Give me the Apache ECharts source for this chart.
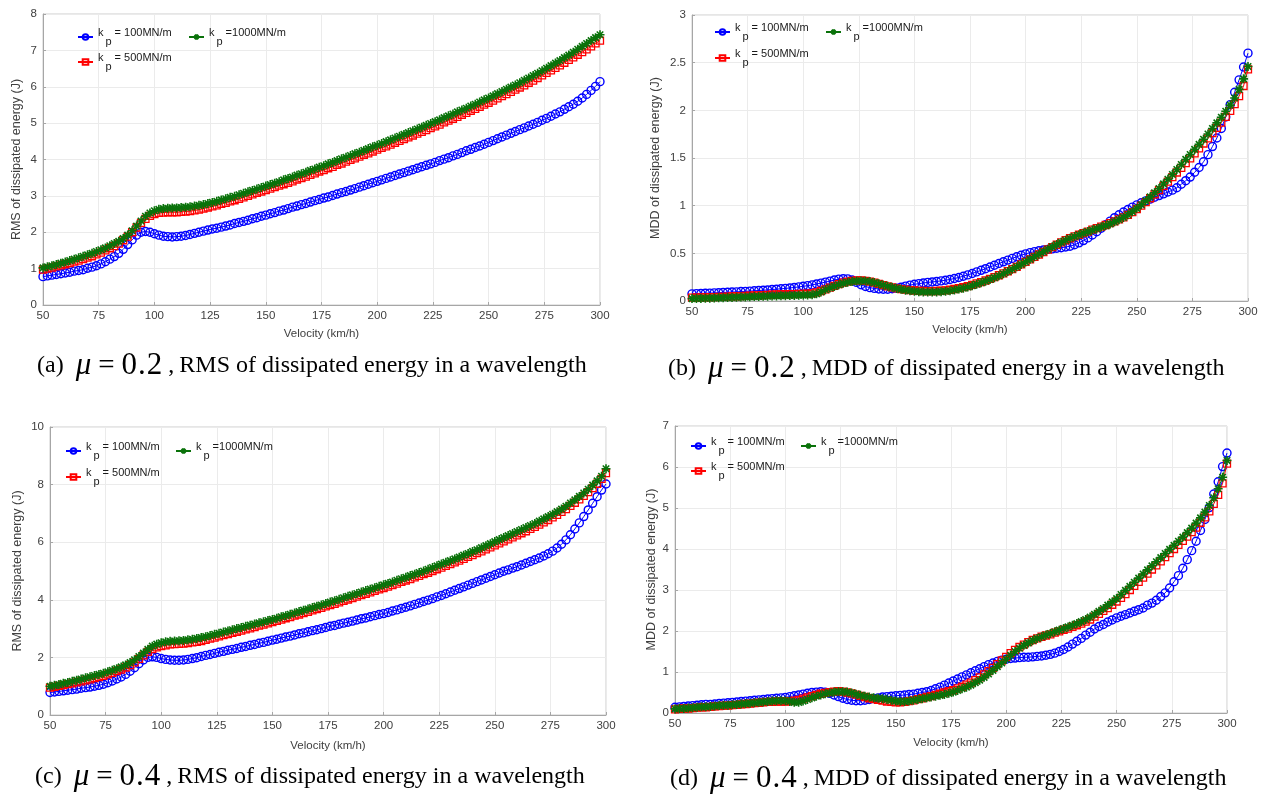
<!DOCTYPE html>
<html>
<head>
<meta charset="utf-8">
<script src="https://cdn.jsdelivr.net/npm/echarts@6/dist/echarts.min.js"></script>
<style>
  html, body { margin: 0; padding: 0; background: #fff; }
  #chart { width: 1262px; height: 795px; }
</style>
</head>
<body>
<div id="chart"></div>
<script>
// velocity (km/h), one marker every 2 km/h
const velocity = [50,52,54,56,58,60,62,64,66,68,70,72,74,76,78,80,82,84,86,88,90,92,94,96,98,
  100,102,104,106,108,110,112,114,116,118,120,122,124,126,128,130,132,134,136,138,140,142,144,146,148,
  150,152,154,156,158,160,162,164,166,168,170,172,174,176,178,180,182,184,186,188,190,192,194,196,198,
  200,202,204,206,208,210,212,214,216,218,220,222,224,226,228,230,232,234,236,238,240,242,244,246,248,
  250,252,254,256,258,260,262,264,266,268,270,272,274,276,278,280,282,284,286,288,290,292,294,296,298,300];

// (a) mu = 0.2, RMS of dissipated energy (J)
const rms02_k100 = [0.78,0.80,0.82,0.84,0.86, 0.88,0.90,0.93,0.95,0.97, 1.01,1.04,1.08,1.13,1.19,
  1.26,1.33,1.42,1.53,1.66, 1.79,1.92,2.00,2.02,2.00, 1.96,1.92,1.89,1.88,1.87, 1.88,1.89,1.91,1.94,1.97,
  2.00,2.03,2.06,2.09,2.11, 2.14,2.17,2.20,2.24,2.27, 2.30,2.33,2.37,2.40,2.44, 2.47,2.51,2.54,2.58,2.61,
  2.65,2.69,2.72,2.76,2.79, 2.83,2.87,2.90,2.94,2.97, 3.01,3.05,3.09,3.12,3.16, 3.20,3.24,3.28,3.32,3.36,
  3.40,3.44,3.48,3.52,3.56, 3.60,3.64,3.68,3.72,3.76, 3.80,3.84,3.88,3.92,3.97, 4.01,4.05,4.10,4.14,4.19,
  4.24,4.28,4.33,4.37,4.42, 4.47,4.52,4.57,4.62,4.67, 4.72,4.77,4.82,4.87,4.92, 4.97,5.02,5.08,5.13,5.19,
  5.25,5.31,5.38,5.45,5.52, 5.60,5.69,5.79,5.90,6.01, 6.14];
const rms02_k500 = [0.97,1.00,1.03,1.06,1.09, 1.12,1.15,1.19,1.22,1.26, 1.30,1.34,1.39,1.44,1.50,
  1.56,1.62,1.69,1.78,1.88, 2.00,2.13,2.26,2.37,2.45, 2.50,2.53,2.54,2.55,2.55, 2.55,2.56,2.57,2.58,2.60,
  2.62,2.65,2.68,2.71,2.74, 2.78,2.81,2.85,2.88,2.92, 2.96,3.00,3.04,3.08,3.12, 3.16,3.20,3.24,3.28,3.32,
  3.36,3.40,3.45,3.49,3.53, 3.58,3.62,3.67,3.71,3.76, 3.80,3.85,3.89,3.94,3.99, 4.03,4.08,4.13,4.17,4.22,
  4.27,4.32,4.36,4.41,4.46, 4.51,4.56,4.61,4.66,4.71, 4.76,4.81,4.86,4.91,4.96, 5.02,5.07,5.12,5.17,5.23,
  5.28,5.34,5.39,5.45,5.51, 5.56,5.62,5.68,5.74,5.80, 5.86,5.92,5.98,6.04,6.11, 6.17,6.24,6.31,6.38,6.45,
  6.52,6.59,6.66,6.74,6.81, 6.88,6.95,7.03,7.11,7.19, 7.27];
const rms02_k1000 = [1.02,1.05,1.08,1.11,1.15, 1.18,1.22,1.26,1.30,1.34, 1.38,1.42,1.47,1.52,1.57,
  1.63,1.69,1.75,1.83,1.92, 2.04,2.17,2.31,2.44,2.53, 2.59,2.63,2.65,2.66,2.67, 2.67,2.68,2.69,2.70,2.72,
  2.74,2.76,2.79,2.82,2.85, 2.89,2.92,2.96,2.99,3.03, 3.07,3.11,3.15,3.19,3.23, 3.27,3.31,3.35,3.39,3.44,
  3.48,3.52,3.57,3.61,3.65, 3.70,3.74,3.79,3.83,3.88, 3.92,3.97,4.02,4.06,4.11, 4.16,4.20,4.25,4.30,4.35,
  4.39,4.44,4.49,4.54,4.59, 4.64,4.69,4.74,4.79,4.84, 4.89,4.94,4.99,5.04,5.09, 5.15,5.20,5.25,5.31,5.36,
  5.41,5.47,5.52,5.58,5.64, 5.69,5.75,5.81,5.87,5.93, 5.99,6.05,6.11,6.18,6.24, 6.31,6.37,6.44,6.51,6.58,
  6.65,6.72,6.80,6.87,6.95, 7.03,7.11,7.19,7.27,7.35, 7.43];

// (b) mu = 0.2, MDD of dissipated energy (J)
const mdd02_k100 = [0.075,0.077,0.079,0.081,0.083, 0.085,0.087,0.089,0.091,0.094, 0.096,0.099,0.101,0.104,0.107,
  0.110,0.113,0.116,0.120,0.124, 0.128,0.132,0.137,0.142,0.148, 0.154,0.161,0.169,0.178,0.188,
  0.198,0.209,0.220,0.229,0.234, 0.232,0.220,0.195,0.170,0.152, 0.140,0.132,0.126,0.123,0.124,
  0.128,0.135,0.145,0.156,0.166, 0.175,0.182,0.189,0.195,0.200, 0.205,0.211,0.218,0.226,0.236,
  0.247,0.260,0.274,0.289,0.305, 0.322,0.339,0.357,0.375,0.393, 0.411,0.429,0.447,0.464,0.480,
  0.494,0.507,0.518,0.527,0.535, 0.541,0.547,0.553,0.559,0.566, 0.575,0.590,0.610,0.634,0.662,
  0.693,0.727,0.763,0.800,0.838, 0.874,0.905,0.934,0.960,0.985, 1.008,1.030,1.050,1.069,1.088,
  1.106,1.124,1.143,1.163,1.188, 1.225,1.262,1.300,1.350,1.400, 1.460,1.535,1.620,1.710,1.810,
  1.930,2.060,2.190,2.320,2.455, 2.600];
const mdd02_k500 = [0.035,0.036,0.037,0.038,0.040, 0.041,0.043,0.044,0.046,0.048, 0.050,0.052,0.054,0.056,0.058,
  0.060,0.062,0.064,0.066,0.068, 0.070,0.071,0.072,0.073,0.074, 0.075,0.076,0.080,0.090,0.105,
  0.122,0.140,0.158,0.176,0.192, 0.204,0.212,0.216,0.216,0.212, 0.204,0.193,0.180,0.167,0.154,
  0.143,0.133,0.125,0.119,0.114, 0.110,0.107,0.105,0.104,0.104, 0.105,0.108,0.112,0.118,0.126,
  0.135,0.145,0.157,0.170,0.184, 0.199,0.215,0.232,0.250,0.270, 0.290,0.312,0.335,0.359,0.384,
  0.410,0.436,0.462,0.488,0.514, 0.540,0.565,0.590,0.614,0.637, 0.658,0.677,0.695,0.712,0.728,
  0.748,0.764,0.780,0.797,0.816, 0.836,0.856,0.878,0.903,0.932, 0.965,1.000,1.038,1.078,1.120,
  1.163,1.207,1.253,1.300,1.348, 1.397,1.447,1.497,1.548,1.600, 1.652,1.705,1.760,1.815,1.872,
  1.932,1.995,2.065,2.150,2.255, 2.430];
const mdd02_k1000 = [0.025,0.026,0.027,0.029,0.030, 0.032,0.033,0.035,0.036,0.038, 0.039,0.041,0.042,0.044,0.046,
  0.047,0.049,0.050,0.052,0.053, 0.055,0.056,0.058,0.059,0.061, 0.062,0.063,0.065,0.075,0.095,
  0.118,0.136,0.153,0.170,0.185, 0.196,0.204,0.209,0.211,0.210, 0.204,0.193,0.181,0.168,0.155,
  0.143,0.132,0.122,0.114,0.107, 0.102,0.098,0.095,0.094,0.094, 0.095,0.098,0.102,0.108,0.116,
  0.125,0.135,0.147,0.160,0.175, 0.191,0.208,0.226,0.245,0.265, 0.286,0.309,0.333,0.358,0.384,
  0.410,0.437,0.464,0.491,0.517, 0.543,0.568,0.592,0.615,0.637, 0.658,0.677,0.695,0.712,0.728,
  0.744,0.759,0.775,0.791,0.809, 0.830,0.852,0.877,0.905,0.937, 0.972,1.010,1.050,1.092,1.135,
  1.180,1.228,1.277,1.327,1.380, 1.432,1.485,1.537,1.590,1.643, 1.697,1.752,1.810,1.868,1.928,
  1.990,2.055,2.130,2.220,2.330, 2.460];

// (c) mu = 0.4, RMS of dissipated energy (J)
const rms04_k100 = [0.78,0.80,0.82,0.84,0.86, 0.88,0.90,0.93,0.95,0.97, 1.00,1.03,1.07,1.12,1.18,
  1.25,1.32,1.41,1.52,1.64, 1.78,1.91,2.00,2.02,2.00, 1.96,1.93,1.91,1.90,1.90, 1.91,1.93,1.96,1.99,2.03,
  2.07,2.10,2.14,2.18,2.21, 2.25,2.28,2.31,2.35,2.38, 2.42,2.45,2.49,2.52,2.56, 2.60,2.63,2.67,2.71,2.74,
  2.78,2.82,2.85,2.89,2.93, 2.96,3.00,3.04,3.08,3.11, 3.15,3.19,3.22,3.26,3.30, 3.34,3.37,3.41,3.45,3.49,
  3.52,3.56,3.61,3.65,3.70, 3.74,3.79,3.84,3.89,3.94, 3.99,4.04,4.10,4.15,4.21, 4.27,4.33,4.39,4.45,4.51,
  4.57,4.63,4.69,4.75,4.81, 4.87,4.93,4.99,5.04,5.10, 5.15,5.21,5.27,5.33,5.39, 5.45,5.52,5.60,5.69,5.80,
  5.93,6.08,6.26,6.46,6.67, 6.89,7.12,7.35,7.58,7.81, 8.02];
const rms04_k500 = [0.95,0.98,1.01,1.04,1.07, 1.10,1.13,1.17,1.20,1.24, 1.28,1.32,1.36,1.41,1.46,
  1.52,1.58,1.65,1.73,1.83, 1.95,2.07,2.19,2.29,2.35, 2.39,2.42,2.45,2.46,2.47, 2.48,2.50,2.52,2.54,2.57,
  2.61,2.65,2.69,2.73,2.77, 2.81,2.85,2.89,2.93,2.97, 3.01,3.05,3.10,3.14,3.18, 3.23,3.27,3.31,3.36,3.40,
  3.45,3.49,3.54,3.58,3.63, 3.68,3.72,3.77,3.82,3.86, 3.91,3.96,4.01,4.06,4.11, 4.16,4.21,4.26,4.31,4.36,
  4.41,4.46,4.51,4.56,4.62, 4.67,4.72,4.78,4.83,4.89, 4.94,5.00,5.06,5.12,5.18, 5.24,5.30,5.36,5.42,5.49,
  5.55,5.62,5.68,5.75,5.82, 5.89,5.96,6.03,6.10,6.17, 6.24,6.31,6.38,6.46,6.53, 6.61,6.69,6.77,6.86,6.95,
  7.05,7.15,7.26,7.37,7.49, 7.61,7.74,7.88,8.03,8.20, 8.40];
const rms04_k1000 = [1.00,1.03,1.06,1.10,1.13, 1.17,1.21,1.25,1.29,1.33, 1.37,1.41,1.45,1.50,1.55,
  1.61,1.67,1.74,1.82,1.92, 2.03,2.15,2.28,2.39,2.46, 2.51,2.54,2.56,2.57,2.58, 2.59,2.61,2.63,2.66,2.69,
  2.72,2.76,2.80,2.84,2.88, 2.92,2.96,3.00,3.04,3.08, 3.12,3.16,3.20,3.24,3.28, 3.32,3.36,3.41,3.45,3.50,
  3.54,3.59,3.64,3.68,3.73, 3.78,3.82,3.87,3.92,3.97, 4.02,4.07,4.12,4.17,4.22, 4.27,4.32,4.37,4.42,4.47,
  4.52,4.57,4.62,4.68,4.73, 4.78,4.84,4.89,4.95,5.00, 5.06,5.12,5.18,5.24,5.30, 5.36,5.42,5.48,5.55,5.61,
  5.68,5.74,5.81,5.88,5.95, 6.02,6.09,6.16,6.23,6.30, 6.37,6.44,6.51,6.58,6.65, 6.73,6.81,6.89,6.97,7.06,
  7.15,7.25,7.36,7.47,7.59, 7.71,7.84,7.98,8.13,8.29, 8.55];

// (d) mu = 0.4, MDD of dissipated energy (J)
const mdd04_k100 = [0.14,0.15,0.16,0.17,0.18, 0.19,0.20,0.21,0.21,0.22, 0.23,0.24,0.25,0.26,0.27,
  0.28,0.29,0.30,0.31,0.32, 0.33,0.34,0.35,0.36,0.37, 0.38,0.40,0.42,0.44,0.46, 0.48,0.50,0.51,0.52,0.51,
  0.48,0.44,0.40,0.36,0.33, 0.31,0.30,0.30,0.31,0.33, 0.35,0.37,0.39,0.40,0.41, 0.42,0.43,0.44,0.45,0.46,
  0.48,0.50,0.52,0.55,0.59, 0.63,0.68,0.73,0.78,0.83, 0.88,0.93,0.98,1.03,1.08, 1.13,1.18,1.22,1.26,1.29,
  1.31,1.33,1.34,1.35,1.36, 1.36,1.37,1.38,1.39,1.41, 1.43,1.46,1.50,1.55,1.61, 1.68,1.75,1.82,1.90,1.97,
  2.05,2.11,2.16,2.22,2.27, 2.32,2.36,2.40,2.44,2.48, 2.52,2.56,2.63,2.68,2.75, 2.84,2.93,3.05,3.20,3.35,
  3.53,3.74,3.96,4.19,4.45, 4.72,5.01,5.34,5.64,6.01, 6.34];
const mdd04_k500 = [0.09,0.10,0.11,0.11,0.12, 0.13,0.14,0.14,0.15,0.16, 0.17,0.18,0.18,0.19,0.20,
  0.21,0.22,0.23,0.24,0.25, 0.26,0.27,0.27,0.28,0.28, 0.28,0.29,0.30,0.32,0.35, 0.38,0.41,0.44,0.47,0.49,
  0.51,0.52,0.53,0.52,0.50, 0.48,0.45,0.42,0.39,0.36, 0.34,0.32,0.30,0.28,0.27, 0.26,0.26,0.27,0.29,0.31,
  0.34,0.36,0.39,0.41,0.44, 0.47,0.50,0.53,0.56,0.60, 0.64,0.69,0.74,0.80,0.87, 0.94,1.02,1.10,1.19,1.28,
  1.37,1.46,1.54,1.61,1.67, 1.73,1.78,1.82,1.86,1.89, 1.92,1.96,1.99,2.03,2.06, 2.10,2.14,2.18,2.23,2.28,
  2.35,2.42,2.49,2.56,2.64, 2.72,2.81,2.90,3.00,3.10, 3.20,3.30,3.40,3.50,3.60, 3.70,3.80,3.90,4.00,4.10,
  4.20,4.30,4.41,4.52,4.64, 4.77,4.92,5.10,5.32,5.60, 6.08];
const mdd04_k1000 = [0.10,0.11,0.11,0.12,0.13, 0.14,0.15,0.15,0.16,0.17, 0.18,0.19,0.19,0.20,0.21,
  0.22,0.23,0.24,0.25,0.26, 0.27,0.28,0.29,0.30,0.30, 0.30,0.28,0.26,0.26,0.29, 0.33,0.37,0.41,0.44,0.47,
  0.49,0.51,0.52,0.52,0.51, 0.49,0.46,0.43,0.41,0.39, 0.37,0.36,0.35,0.33,0.31, 0.29,0.28,0.28,0.29,0.31,
  0.33,0.35,0.37,0.39,0.41, 0.43,0.45,0.48,0.51,0.55, 0.59,0.63,0.68,0.74,0.80, 0.87,0.95,1.04,1.13,1.22,
  1.31,1.41,1.50,1.58,1.65, 1.71,1.77,1.82,1.86,1.90, 1.94,1.98,2.02,2.06,2.10, 2.14,2.18,2.23,2.28,2.34,
  2.41,2.48,2.55,2.63,2.71, 2.79,2.89,2.99,3.09,3.19, 3.29,3.39,3.49,3.59,3.69, 3.79,3.89,3.99,4.09,4.19,
  4.29,4.40,4.51,4.63,4.76, 4.90,5.06,5.25,5.47,5.75, 6.16];

const stiffness = ['100', '500', '1000'];
const legendText = {
  '100': '{k|k}{p|p}{t|= 100MN/m}',
  '500': '{k|k}{p|p}{t|= 500MN/m}',
  '1000': '{k|k}{p|p}{t|=1000MN/m}'
};

const panels = [
  { key: 'a', mu: '0.2', what: 'RMS', yMax: 8, yStep: 1, yName: 'RMS of dissipated energy (J)',
    grid: { left: 43, top: 14, width: 557, height: 291 }, yGap: 20, xGap: 23,
    data: [rms02_k100, rms02_k500, rms02_k1000],
    legendPos: [[77, 27], [77, 52], [188, 27]], caption: [37, 349] },
  { key: 'b', mu: '0.2', what: 'MDD', yMax: 3, yStep: 0.5, yName: 'MDD of dissipated energy (J)',
    grid: { left: 692, top: 15, width: 556, height: 286 }, yGap: 30, xGap: 23,
    data: [mdd02_k100, mdd02_k500, mdd02_k1000],
    legendPos: [[714, 22], [714, 48], [825, 22]], caption: [668, 352] },
  { key: 'c', mu: '0.4', what: 'RMS', yMax: 10, yStep: 2, yName: 'RMS of dissipated energy (J)',
    grid: { left: 50, top: 427, width: 556, height: 288 }, yGap: 26, xGap: 25,
    data: [rms04_k100, rms04_k500, rms04_k1000],
    legendPos: [[65, 441], [65, 467], [175, 441]], caption: [35, 760] },
  { key: 'd', mu: '0.4', what: 'MDD', yMax: 7, yStep: 1, yName: 'MDD of dissipated energy (J)',
    grid: { left: 675, top: 426, width: 552, height: 287 }, yGap: 17, xGap: 24,
    data: [mdd04_k100, mdd04_k500, mdd04_k1000],
    legendPos: [[690, 436], [690, 461], [800, 436]], caption: [670, 762] }
];

const markStyle = {
  '100': { symbol: 'circle', symbolSize: 8, color: '#0000ff', bw: 1.4 },
  '500': { symbol: 'rect', symbolSize: 7, color: '#ff0000', bw: 1.3 },
  '1000': { symbol: 'path://M0,-5L0,5M-5,0L5,0M-3.6,-3.6L3.6,3.6M3.6,-3.6L-3.6,3.6', symbolSize: 9, color: '#0a720a', bw: 1.6 }
};

const axisGrey = '#a6a6a6';
const labelGrey = '#404040';

const serif = 'Liberation Serif';
const capRich = {
  p: { fontFamily: serif, fontWeight: 'normal', fontSize: 24, color: '#000', lineHeight: 34 },
  m: { fontFamily: serif, fontWeight: 'normal', fontStyle: 'italic', fontSize: 31, color: '#000', lineHeight: 34, padding: [0, 7, 0, 12] },
  e: { fontFamily: serif, fontWeight: 'normal', fontSize: 29, color: '#000', lineHeight: 34, padding: [0, 7, 0, 0] },
  n: { fontFamily: serif, fontWeight: 'normal', fontSize: 31, color: '#000', lineHeight: 34 },
  d: { fontFamily: serif, fontWeight: 'normal', fontSize: 31, color: '#000', lineHeight: 34, padding: [0, 1, 0, 1] },
  c: { fontFamily: serif, fontWeight: 'normal', fontSize: 24, color: '#000', lineHeight: 34, padding: [0, 5, 0, 6] }
};

const legendRich = {
  k: { fontSize: 11, color: '#1a1a1a', lineHeight: 13, padding: [0, 2, 9, 0] },
  p: { fontSize: 11, color: '#1a1a1a', lineHeight: 13, padding: [9, 3, 0, 0] },
  t: { fontSize: 11, color: '#1a1a1a', lineHeight: 13, padding: [0, 0, 9, 0] }
};

const grids = [], xAxes = [], yAxes = [], series = [], legends = [], titles = [];

panels.forEach((pn, gi) => {
  grids.push(Object.assign({ show: true, borderColor: '#cccccc', borderWidth: 1, containLabel: false }, pn.grid));

  xAxes.push({
    type: 'value', gridIndex: gi, min: 50, max: 300, interval: 25,
    name: 'Velocity (km/h)', nameLocation: 'middle', nameGap: pn.xGap,
    nameTextStyle: { fontSize: 11.5, color: labelGrey },
    axisLine: { lineStyle: { color: axisGrey } },
    axisTick: { inside: true, length: 3, lineStyle: { color: axisGrey } },
    axisLabel: { fontSize: 11.5, color: labelGrey, margin: 5 },
    splitLine: { show: true, lineStyle: { color: '#ebebeb' } }
  });

  yAxes.push({
    type: 'value', gridIndex: gi, min: 0, max: pn.yMax, interval: pn.yStep,
    name: pn.yName, nameLocation: 'middle', nameGap: pn.yGap,
    nameTextStyle: { fontSize: 12.5, color: labelGrey },
    axisLine: { show: true, lineStyle: { color: axisGrey } },
    axisTick: { show: true, inside: true, length: 3, lineStyle: { color: axisGrey } },
    axisLabel: { fontSize: 11.5, color: labelGrey, margin: 6 },
    splitLine: { show: true, lineStyle: { color: '#ebebeb' } }
  });

  stiffness.forEach((k, si) => {
    const st = markStyle[k];
    const name = pn.key + '-' + k;
    series.push({
      name: name, type: 'line', xAxisIndex: gi, yAxisIndex: gi,
      data: velocity.map((v, i) => [v, pn.data[si][i]]),
      symbol: st.symbol, symbolSize: st.symbolSize, showSymbol: true,
      lineStyle: { color: st.color, width: 1 },
      itemStyle: { color: 'rgba(255,255,255,0)', borderColor: st.color, borderWidth: st.bw },
      emphasis: { disabled: true },
      z: 2 + si
    });
    const pos = pn.legendPos[si];
    legends.push({
      left: pos[0], top: pos[1], padding: 0, itemWidth: 15, itemHeight: 7,
      selectedMode: false, data: [name],
      formatter: (nm) => legendText[nm.split('-')[1]],
      textStyle: { fontSize: 11, color: '#1a1a1a', rich: legendRich }
    });
  });

  titles.push({
    left: pn.caption[0], top: pn.caption[1], padding: 0,
    text: '{p|(' + pn.key + ')}{m|μ}{e|=}{n|' + pn.mu.split('.')[0] + '}{d|.}{n|' + pn.mu.split('.')[1] +
          '}{c|,}{p|' + pn.what + ' of dissipated energy in a wavelength}',
    textStyle: { fontWeight: 'normal', rich: capRich }
  });
});

const chart = echarts.init(document.getElementById('chart'), null, { renderer: 'canvas' });
chart.setOption({
  backgroundColor: '#ffffff',
  animation: false,
  textStyle: { fontFamily: 'Liberation Sans' },
  title: titles,
  grid: grids,
  xAxis: xAxes,
  yAxis: yAxes,
  legend: legends,
  series: series
});
</script>
</body>
</html>
